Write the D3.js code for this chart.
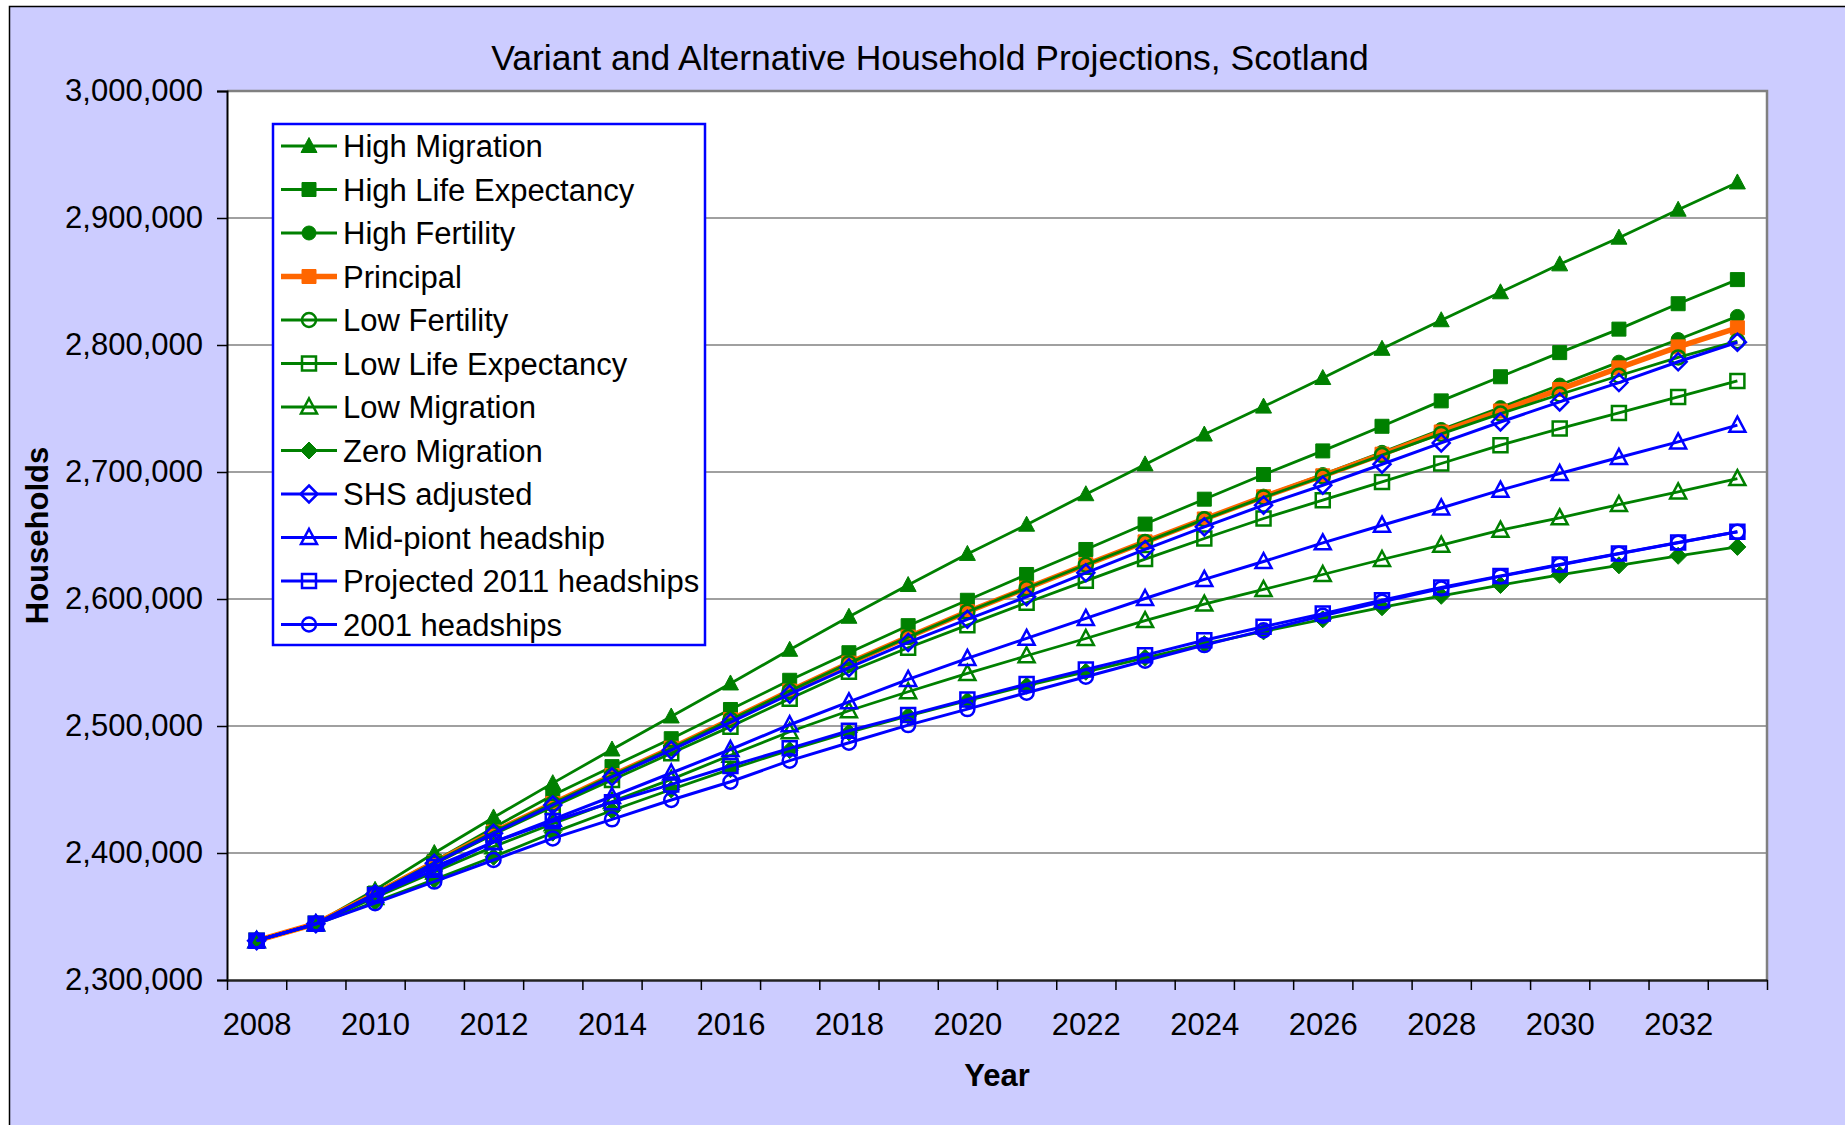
<!DOCTYPE html>
<html>
<head>
<meta charset="utf-8">
<script src="https://cdn.jsdelivr.net/npm/d3@7"></script>
<style>
  body { margin: 0; background: #ffffff; }
  svg { display: block; font-family: "Liberation Sans", Arial, sans-serif; }
</style>
</head>
<body>
<svg id="chart"></svg>
<script>
// data (households, Scotland)
const years = [2008, 2009, 2010, 2011, 2012, 2013, 2014, 2015, 2016, 2017, 2018, 2019, 2020,
    2021, 2022, 2023, 2024, 2025, 2026, 2027, 2028, 2029, 2030, 2031, 2032, 2033];

const highMigration = [2331000, 2344600, 2371000, 2400000, 2428000, 2455000, 2481500, 2507500, 2533500, 2560000, 2586000, 2611000, 2635500,
    2658500, 2682500, 2706000, 2729500, 2751500, 2774000, 2797000, 2819500, 2841500, 2863500, 2884500, 2906500, 2928000];
const highLifeExpectancy = [2331000, 2344500, 2368500, 2393500, 2420000, 2445500, 2468000, 2490000, 2513000, 2536000, 2557700, 2579000, 2599000,
    2619300, 2639000, 2659000, 2678600, 2698000, 2716600, 2736000, 2756000, 2775000, 2794000, 2812500, 2832500, 2851500];
const highFertility = [2331000, 2344300, 2368000, 2392500, 2416500, 2439000, 2461000, 2482500, 2505000, 2527500, 2549500, 2570000, 2590000,
    2608500, 2627000, 2645200, 2663300, 2681000, 2698000, 2715500, 2733500, 2750700, 2768500, 2786500, 2804300, 2822500];
const principal = [2331000, 2344300, 2368000, 2392500, 2416500, 2439000, 2461000, 2482500, 2505000, 2527500, 2549500, 2570000, 2590000,
    2608500, 2627000, 2645000, 2663000, 2680500, 2697000, 2714000, 2731500, 2748000, 2765000, 2782000, 2798500, 2813500];
const lowFertility = [2331000, 2344300, 2368000, 2392500, 2416500, 2439000, 2461000, 2482500, 2505000, 2527500, 2549500, 2570000, 2590000,
    2608500, 2627000, 2644800, 2662700, 2680000, 2696500, 2713300, 2730000, 2746000, 2761000, 2775800, 2790200, 2803000];
const lowLifeExpectancy = [2331000, 2344300, 2367500, 2391500, 2414500, 2436500, 2457500, 2478500, 2499500, 2521500, 2542700, 2561600, 2579400,
    2597000, 2614300, 2631400, 2647600, 2663400, 2677800, 2692200, 2706700, 2721100, 2734200, 2746500, 2759100, 2771700];
const lowMigration = [2331000, 2344000, 2365000, 2385000, 2405000, 2423000, 2440500, 2458000, 2477000, 2495500, 2512000, 2527000, 2541400,
    2555300, 2568900, 2583000, 2596000, 2607500, 2619300, 2631100, 2642400, 2654200, 2663900, 2674400, 2684300, 2694800];
const zeroMigration = [2331000, 2343800, 2361500, 2379000, 2397000, 2416000, 2433500, 2450000, 2466000, 2481000, 2495000, 2508000, 2520000,
    2531700, 2542700, 2553700, 2564500, 2574500, 2584000, 2593500, 2602500, 2611000, 2619000, 2626500, 2634000, 2641000];
const shsAdjusted = [2331000, 2344300, 2367800, 2391900, 2415500, 2437800, 2460000, 2481000, 2502800, 2525100, 2545900, 2565800, 2584000,
    2601700, 2620600, 2639000, 2656800, 2673900, 2689600, 2706100, 2722900, 2739400, 2755200, 2770400, 2786800, 2802200];
const midPointHeadship = [2331000, 2344200, 2366500, 2386500, 2408500, 2426500, 2444500, 2463000, 2481500, 2501000, 2519000, 2536700, 2553200,
    2569000, 2584700, 2600400, 2615400, 2629500, 2644200, 2658100, 2671700, 2685700, 2698800, 2711400, 2723700, 2736900];
const projected2011 = [2331000, 2344200, 2367000, 2389000, 2408500, 2425000, 2440000, 2454000, 2468500, 2482400, 2496300, 2508600, 2520900,
    2533000, 2544500, 2555800, 2567500, 2578200, 2588500, 2599000, 2609000, 2618200, 2627200, 2635800, 2644500, 2652900];
const headships2001 = [2331000, 2344000, 2360500, 2377500, 2394500, 2411500, 2426500, 2441700, 2456100, 2472700, 2486800, 2500700, 2513300,
    2526200, 2538800, 2551400, 2563700, 2575300, 2586800, 2597800, 2608300, 2617800, 2626800, 2635600, 2644300, 2652900];

const seriesNames = ["High Migration", "High Life Expectancy", "High Fertility", "Principal", "Low Fertility",
    "Low Life Expectancy", "Low Migration", "Zero Migration", "SHS adjusted", "Mid-piont headship",
    "Projected 2011 headships", "2001 headships"];
const seriesValues = [highMigration, highLifeExpectancy, highFertility, principal, lowFertility,
    lowLifeExpectancy, lowMigration, zeroMigration, shsAdjusted, midPointHeadship, projected2011, headships2001];
const yTicks = [2300000, 2400000, 2500000, 2600000, 2700000, 2800000, 2900000, 3000000];
const xLabels = [2008, 2010, 2012, 2014, 2016, 2018, 2020, 2022, 2024, 2026, 2028, 2030, 2032];

// styles for each series (same order as names)
const green = "#008000", blue = "#0000ff", orange = "#ff6600";
const styles = [
    { color: green, shape: "triangle", filled: true, width: 2.8 },
    { color: green, shape: "square", filled: true, width: 2.8 },
    { color: green, shape: "circle", filled: true, width: 2.8 },
    { color: orange, shape: "square", filled: true, width: 5.5 },
    { color: green, shape: "circle", filled: false, width: 2.8 },
    { color: green, shape: "square", filled: false, width: 2.8 },
    { color: green, shape: "triangle", filled: false, width: 2.8 },
    { color: green, shape: "diamond", filled: true, width: 2.8 },
    { color: blue, shape: "diamond", filled: false, width: 3 },
    { color: blue, shape: "triangle", filled: false, width: 3 },
    { color: blue, shape: "square", filled: false, width: 3 },
    { color: blue, shape: "circle", filled: false, width: 3 }
];

const series = seriesNames.map((name, i) => ({
    name: name,
    style: styles[i],
    points: years.map((yr, j) => ({ year: yr, value: seriesValues[i][j] }))
}));

var w = 1845;
var h = 1125;
let plot = ({ left: 227, right: 1767, top: 91, bottom: 980 });
const font = 31;

var svg = d3.select("#chart")
    .attr("width", w)
    .attr("height", h);

// lavender chart area
svg.append("rect")
    .attr("x", 9.5).attr("y", 6.5)
    .attr("width", w).attr("height", h)
    .attr("fill", "#ccccff")
    .attr("stroke", "#000")
    .attr("stroke-width", 1.5);

// plot area
svg.append("rect")
    .attr("x", plot.left).attr("y", plot.top)
    .attr("width", plot.right - plot.left).attr("height", plot.bottom - plot.top)
    .attr("fill", "#fff");

// category axis: year centers, edges at half years
var xScale = d3.scaleLinear()
    .domain([years[0] - 0.5, years[years.length - 1] + 0.5])
    .range([plot.left, plot.right]);

var yScale = d3.scaleLinear()
    .domain([yTicks[0], yTicks[yTicks.length - 1]])
    .range([plot.bottom, plot.top]);

// gridlines
svg.append("g")
    .selectAll("line")
    .data(yTicks.slice(1))
    .join("line")
    .attr("x1", plot.left).attr("x2", plot.right)
    .attr("y1", d => yScale(d)).attr("y2", d => yScale(d))
    .attr("stroke", "#808080")
    .attr("stroke-width", 1.5);

// gray frame on top and right
svg.append("path")
    .attr("d", `M${plot.left},${plot.top}H${plot.right}V${plot.bottom}`)
    .attr("fill", "none")
    .attr("stroke", "#808080")
    .attr("stroke-width", 2.5);

// y axis
let yAxis = g => g
    .attr("transform", `translate(${plot.left},0)`)
    .call(d3.axisLeft(yScale).tickValues(yTicks).tickFormat(d3.format(",")).tickSize(10).tickPadding(14))
    .call(g => g.selectAll("line").attr("stroke", "#000").attr("stroke-width", 1.5))
    .call(g => g.select(".domain").attr("stroke", "#000").attr("stroke-width", 2))
    .call(g => g.selectAll("text").attr("font-size", font).attr("fill", "#000").attr("font-family", null));
svg.append("g").call(yAxis);

// x axis ticks at the category edges
let edges = years.map(yr => yr - 0.5).concat([years[years.length - 1] + 0.5]);
let xAxis = g => g
    .attr("transform", `translate(0,${plot.bottom})`)
    .call(d3.axisBottom(xScale).tickValues(edges).tickFormat("").tickSize(10).tickSizeOuter(0))
    .call(g => g.selectAll("line").attr("stroke", "#000").attr("stroke-width", 1.5))
    .call(g => g.select(".domain").attr("stroke", "#222").attr("stroke-width", 2.5));
svg.append("g").call(xAxis);

// year labels every second year
let xLabelAxis = g => g
    .attr("transform", `translate(0,${plot.bottom})`)
    .call(d3.axisBottom(xScale).tickValues(xLabels).tickFormat(d3.format("d")).tickSize(0).tickPadding(33))
    .call(g => g.select(".domain").remove())
    .call(g => g.selectAll("text").attr("font-size", font).attr("fill", "#000").attr("font-family", null));
svg.append("g").call(xLabelAxis);

// titles
svg.append("text")
    .attr("x", 930).attr("y", 70)
    .attr("text-anchor", "middle")
    .attr("font-size", 35.5)
    .text("Variant and Alternative Household Projections, Scotland");

svg.append("text")
    .attr("x", (plot.left + plot.right) / 2).attr("y", 1086)
    .attr("text-anchor", "middle")
    .attr("font-size", font)
    .attr("font-weight", "bold")
    .text("Year");

svg.append("text")
    .attr("transform", `translate(48,${(plot.top + plot.bottom) / 2}) rotate(-90)`)
    .attr("text-anchor", "middle")
    .attr("font-size", font)
    .attr("font-weight", "bold")
    .text("Households");

// marker shapes, centred on 0,0
function markerPath(shape) {
    if (shape === "triangle") return "M0,-8.5L8,6.5L-8,6.5Z";
    if (shape === "square") return "M-7,-7H7V7H-7Z";
    if (shape === "diamond") return "M0,-8.5L8.5,0L0,8.5L-8.5,0Z";
    return "M-7,0A7,7 0 1,0 7,0A7,7 0 1,0 -7,0Z";
}

function drawMarker(sel, st) {
    sel.attr("d", markerPath(st.shape))
        .attr("fill", st.filled ? st.color : "none")
        .attr("stroke", st.color)
        .attr("stroke-width", st.filled ? 1 : 2.5);
}

let line = d3.line()
    .x(d => xScale(d.year))
    .y(d => yScale(d.value));

// one group per series, drawn in legend order
const lines = svg.append("g")
    .selectAll("g")
    .data(series)
    .join("g");

lines.append("path")
    .attr("d", d => line(d.points))
    .attr("fill", "none")
    .attr("stroke", d => d.style.color)
    .attr("stroke-width", d => d.style.width)
    .attr("stroke-linejoin", "round");

lines.each(function (s) {
    d3.select(this).selectAll("path.mark")
        .data(s.points)
        .join("path")
        .attr("class", "mark")
        .attr("transform", d => `translate(${xScale(d.year)},${yScale(d.value)})`)
        .call(drawMarker, s.style);
});

// legend
const legend = svg.append("g");
legend.append("rect")
    .attr("x", 273).attr("y", 124)
    .attr("width", 432).attr("height", 521)
    .attr("fill", "#fff")
    .attr("stroke", blue)
    .attr("stroke-width", 2.5);

const rows = legend.selectAll("g")
    .data(series)
    .join("g")
    .attr("transform", (d, i) => `translate(0,${146 + i * 43.5})`);

rows.append("line")
    .attr("x1", 281).attr("x2", 337)
    .attr("stroke", d => d.style.color)
    .attr("stroke-width", d => d.style.width);

rows.append("path")
    .attr("transform", "translate(309,0)")
    .each(function (d) { d3.select(this).call(drawMarker, d.style); });

rows.append("text")
    .attr("x", 343).attr("y", 11)
    .attr("font-size", font)
    .text(d => d.name);
</script>
</body>
</html>
